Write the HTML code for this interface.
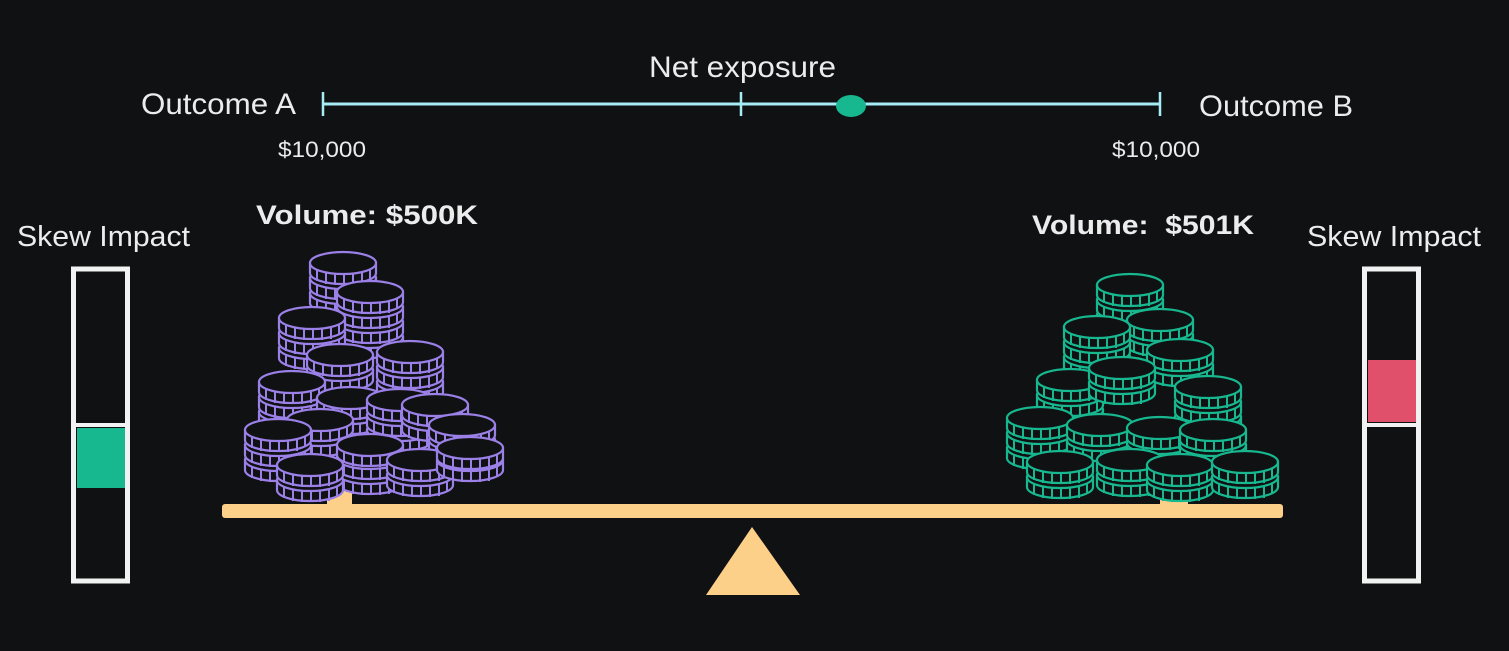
<!DOCTYPE html>
<html><head><meta charset="utf-8"><style>
html,body{margin:0;padding:0;background:#101113;}
svg{display:block;}
text{font-family:"Liberation Sans",sans-serif;fill:#ececec;}
</style></head><body>
<svg width="1509" height="651" viewBox="0 0 1509 651" xmlns="http://www.w3.org/2000/svg">
<defs>
<g id="cp">
<path d="M-33,0 L-33,10 A33,11 0 0 0 33,10 L33,0 Z" fill="#101113" stroke="#9b80e8" stroke-width="2.2"/>
<ellipse cx="0" cy="0" rx="33" ry="11" fill="#101113" stroke="#9b80e8" stroke-width="2.2"/>
<path d="M-26,7 v11 M-17,10 v11 M-8,11 v11 M1,11 v11 M10,11 v11 M19,10 v11 M27,7 v10" stroke="#9b80e8" stroke-width="2"/>
</g>
<g id="cg">
<path d="M-33,0 L-33,10 A33,11 0 0 0 33,10 L33,0 Z" fill="#101113" stroke="#17b78f" stroke-width="2.2"/>
<ellipse cx="0" cy="0" rx="33" ry="11" fill="#101113" stroke="#17b78f" stroke-width="2.2"/>
<path d="M-26,7 v11 M-17,10 v11 M-8,11 v11 M1,11 v11 M10,11 v11 M19,10 v11 M27,7 v10" stroke="#17b78f" stroke-width="2"/>
</g>
</defs>

<!-- top scale -->
<text x="649" y="77" font-size="30" textLength="187" lengthAdjust="spacingAndGlyphs">Net exposure</text>
<text x="141" y="114" font-size="30" textLength="155" lengthAdjust="spacingAndGlyphs">Outcome A</text>
<text x="1199" y="116" font-size="30" textLength="154" lengthAdjust="spacingAndGlyphs">Outcome B</text>
<text x="278" y="157" font-size="22" textLength="88" lengthAdjust="spacingAndGlyphs">$10,000</text>
<text x="1112" y="157" font-size="22" textLength="88" lengthAdjust="spacingAndGlyphs">$10,000</text>
<line x1="323" y1="104" x2="1160" y2="104" stroke="#a6ecf4" stroke-width="3"/>
<line x1="323" y1="92" x2="323" y2="116" stroke="#a6ecf4" stroke-width="2.5"/>
<line x1="741" y1="92" x2="741" y2="116" stroke="#a6ecf4" stroke-width="2.5"/>
<line x1="1160" y1="92" x2="1160" y2="116" stroke="#a6ecf4" stroke-width="2.5"/>
<ellipse cx="851" cy="106" rx="15" ry="11" fill="#17b78f"/>

<!-- labels -->
<text x="256" y="224" font-size="27" font-weight="bold" textLength="222" lengthAdjust="spacingAndGlyphs">Volume: $500K</text>
<text x="1032" y="234" font-size="27" font-weight="bold" xml:space="preserve" textLength="222" lengthAdjust="spacingAndGlyphs">Volume:  $501K</text>
<text x="17" y="246" font-size="29" textLength="173" lengthAdjust="spacingAndGlyphs">Skew Impact</text>
<text x="1307" y="246" font-size="29" textLength="174" lengthAdjust="spacingAndGlyphs">Skew Impact</text>

<!-- skew bars -->
<rect x="73.5" y="269" width="54" height="312" fill="none" stroke="#f2f2f2" stroke-width="5"/>
<line x1="73" y1="425" x2="128" y2="425" stroke="#f2f2f2" stroke-width="4"/>
<rect x="77" y="428" width="48" height="60" fill="#17b78f"/>
<rect x="1364.5" y="269" width="54" height="312" fill="none" stroke="#f2f2f2" stroke-width="5"/>
<line x1="1364" y1="425" x2="1419" y2="425" stroke="#f2f2f2" stroke-width="4"/>
<rect x="1368" y="360" width="48" height="62" fill="#e0506a"/>

<!-- tabs -->
<rect x="327" y="484" width="25" height="22" fill="#fdd08a"/>
<rect x="1160" y="484" width="28" height="22" fill="#fdd08a"/>

<!-- left pile -->
<g>
<use href="#cp" x="343" y="293"/><use href="#cp" x="343" y="278"/><use href="#cp" x="343" y="263"/>
<use href="#cp" x="370" y="337"/><use href="#cp" x="370" y="322"/><use href="#cp" x="370" y="307"/><use href="#cp" x="370" y="292"/>
<use href="#cp" x="312" y="348"/><use href="#cp" x="312" y="333"/><use href="#cp" x="312" y="318"/>
<use href="#cp" x="410" y="382"/><use href="#cp" x="410" y="367"/><use href="#cp" x="410" y="352"/>
<use href="#cp" x="340" y="370"/><use href="#cp" x="340" y="355"/>
<use href="#cp" x="292" y="412"/><use href="#cp" x="292" y="397"/><use href="#cp" x="292" y="382"/>
<use href="#cp" x="350" y="413"/><use href="#cp" x="350" y="398"/>
<use href="#cp" x="400" y="430"/><use href="#cp" x="400" y="415"/><use href="#cp" x="400" y="400"/>
<use href="#cp" x="435" y="420"/><use href="#cp" x="435" y="405"/>
<use href="#cp" x="320" y="435"/><use href="#cp" x="320" y="420"/>
<use href="#cp" x="278" y="460"/><use href="#cp" x="278" y="445"/><use href="#cp" x="278" y="430"/>
<use href="#cp" x="462" y="455"/><use href="#cp" x="462" y="440"/><use href="#cp" x="462" y="425"/>
<use href="#cp" x="370" y="473"/><use href="#cp" x="370" y="458"/><use href="#cp" x="370" y="445"/>
<use href="#cp" x="420" y="475"/><use href="#cp" x="420" y="460"/>
<use href="#cp" x="470" y="460"/><use href="#cp" x="470" y="448"/>
<use href="#cp" x="310" y="480"/><use href="#cp" x="310" y="465"/>
</g>

<!-- right pile -->
<g>
<use href="#cg" x="1130" y="315"/><use href="#cg" x="1130" y="300"/><use href="#cg" x="1130" y="285"/>
<use href="#cg" x="1160" y="335"/><use href="#cg" x="1160" y="320"/>
<use href="#cg" x="1097" y="357"/><use href="#cg" x="1097" y="342"/><use href="#cg" x="1097" y="327"/>
<use href="#cg" x="1180" y="365"/><use href="#cg" x="1180" y="350"/>
<use href="#cg" x="1070" y="410"/><use href="#cg" x="1070" y="395"/><use href="#cg" x="1070" y="380"/>
<use href="#cg" x="1122" y="383"/><use href="#cg" x="1122" y="368"/>
<use href="#cg" x="1208" y="417"/><use href="#cg" x="1208" y="402"/><use href="#cg" x="1208" y="387"/>
<use href="#cg" x="1040" y="448"/><use href="#cg" x="1040" y="433"/><use href="#cg" x="1040" y="418"/>
<use href="#cg" x="1100" y="440"/><use href="#cg" x="1100" y="425"/>
<use href="#cg" x="1160" y="458"/><use href="#cg" x="1160" y="443"/><use href="#cg" x="1160" y="428"/>
<use href="#cg" x="1213" y="460"/><use href="#cg" x="1213" y="445"/><use href="#cg" x="1213" y="430"/>
<use href="#cg" x="1130" y="475"/><use href="#cg" x="1130" y="460"/>
<use href="#cg" x="1060" y="477"/><use href="#cg" x="1060" y="462"/>
<use href="#cg" x="1180" y="480"/><use href="#cg" x="1180" y="465"/>
<use href="#cg" x="1245" y="477"/><use href="#cg" x="1245" y="462"/>
</g>

<!-- seesaw -->
<rect x="222" y="504" width="1061" height="14" rx="3" fill="#fdd08a"/>
<polygon points="752,527 800,595 706,595" fill="#fdd08a"/>
</svg>
</body></html>
